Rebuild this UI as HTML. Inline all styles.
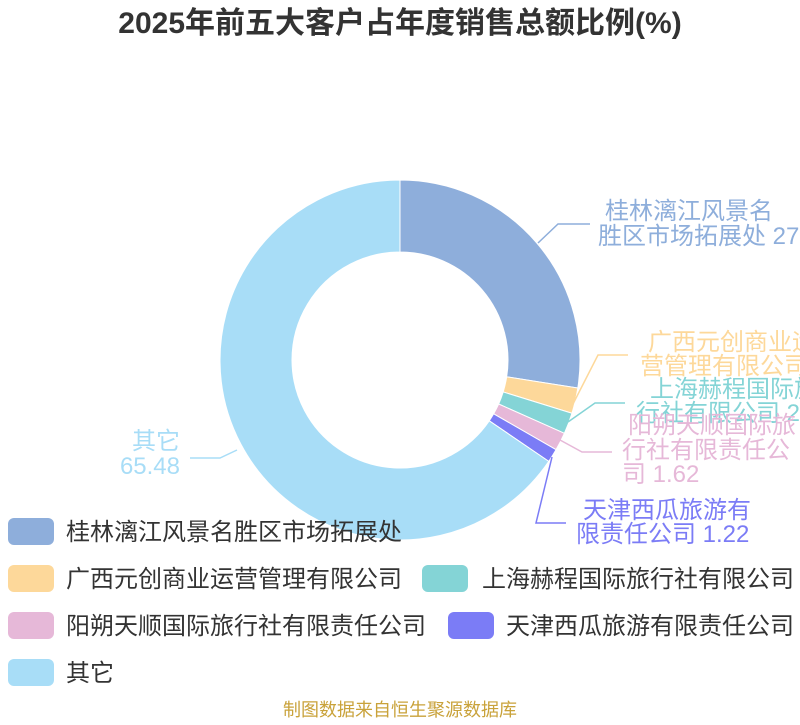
<!DOCTYPE html>
<html><head><meta charset="utf-8"><style>
body{margin:0;background:#fff;width:800px;height:720px;overflow:hidden}
svg text{font-family:"Liberation Sans","Noto Sans CJK SC",sans-serif}
</style></head><body>
<svg width="800" height="720" xmlns="http://www.w3.org/2000/svg">
<text x="400" y="33" text-anchor="middle" font-size="30" font-weight="bold" fill="#333">2025年前五大客户占年度销售总额比例(%)</text>
<g id="pie"></g>
<g fill="none" stroke-width="1.5">
<polyline points="538,243 558,224 590,224" stroke="#8eaedb"/>
<polyline points="573,404 598,355 628,355" stroke="#fdd89a"/>
<polyline points="568,422 595,403 625,403" stroke="#84d4d6"/>
<polyline points="560,440 582,452 612,452" stroke="#e6b8d8"/>
<polyline points="552,457 536,523 566,523" stroke="#7b7cf6"/>
<polyline points="237,450 220,458 190,458" stroke="#a8ddf7"/>
</g>
<g font-size="24">
<text x="605" y="219" fill="#8eaedb">桂林漓江风景名</text>
<text x="598" y="244" fill="#8eaedb">胜区市场拓展处 27.49</text>
<text x="648" y="350" fill="#fdd89a">广西元创商业运</text>
<text x="640" y="374" fill="#fdd89a">营管理有限公司 2.29</text>
<text x="650" y="397" fill="#84d4d6">上海赫程国际旅</text>
<text x="636" y="421" fill="#84d4d6">行社有限公司 2.0</text>
<text x="628" y="433" fill="#e6b8d8">阳朔天顺国际旅</text>
<text x="622" y="458" fill="#e6b8d8">行社有限责任公</text>
<text x="622" y="482" fill="#e6b8d8">司 1.62</text>
<text x="583" y="518" fill="#7b7cf6">天津西瓜旅游有</text>
<text x="576" y="542" fill="#7b7cf6">限责任公司 1.22</text>
<text x="180" y="449" text-anchor="end" fill="#a8ddf7">其它</text>
<text x="180" y="474" text-anchor="end" fill="#a8ddf7">65.48</text>
</g>
<g font-size="24" fill="#333">
<rect x="8" y="518" width="46" height="27" rx="6" fill="#8eaedb"/><text x="66" y="540">桂林漓江风景名胜区市场拓展处</text>
<rect x="8" y="565" width="46" height="27" rx="6" fill="#fdd89a"/><text x="66" y="587">广西元创商业运营管理有限公司</text>
<rect x="422" y="565" width="46" height="27" rx="6" fill="#84d4d6"/><text x="482" y="587">上海赫程国际旅行社有限公司</text>
<rect x="8" y="612" width="46" height="27" rx="6" fill="#e6b8d8"/><text x="66" y="634">阳朔天顺国际旅行社有限责任公司</text>
<rect x="448" y="612" width="46" height="27" rx="6" fill="#7b7cf6"/><text x="506" y="634">天津西瓜旅游有限责任公司</text>
<rect x="8" y="659" width="46" height="27" rx="6" fill="#a8ddf7"/><text x="66" y="681">其它</text>
</g>
<text x="400" y="716" text-anchor="middle" font-size="18" fill="#c9a23a">制图数据来自恒生聚源数据库</text>
</svg>
<script>
(function(){
var v=[[27.49,'#8eaedb'],[2.29,'#fdd89a'],[1.9,'#84d4d6'],[1.62,'#e6b8d8'],[1.22,'#7b7cf6'],[65.48,'#a8ddf7']];
var cx=400,cy=360,R=180,r=108,a=0,g=document.getElementById('pie'),s='';
function p(rad,ang){var t=ang*Math.PI/180;return (cx+rad*Math.sin(t)).toFixed(2)+','+(cy-rad*Math.cos(t)).toFixed(2);}
v.forEach(function(e){var b=a+e[0]*3.6,l=(b-a)>180?1:0;
s+='<path d="M'+p(R,a)+' A'+R+','+R+' 0 '+l+' 1 '+p(R,b)+' L'+p(r,b)+' A'+r+','+r+' 0 '+l+' 0 '+p(r,a)+' Z" fill="'+e[1]+'" stroke="#fff" stroke-width="1"/>';a=b;});
g.innerHTML=s;})();
</script>
</body></html>
